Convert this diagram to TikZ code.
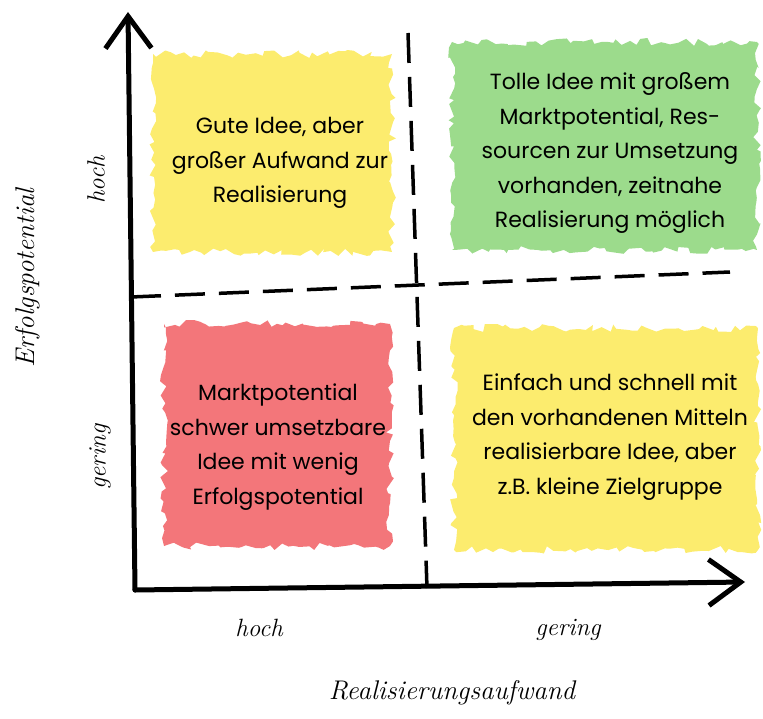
\documentclass[tikz,border=0pt]{standalone}
\usepackage{fontspec}
\setsansfont{Poppins}
\usetikzlibrary{arrows.meta,decorations.pathmorphing}

\definecolor{gelb}{HTML}{FCEC6E}
\definecolor{gruen}{HTML}{9CDB8C}
\definecolor{rot}{HTML}{F3767A}

\begin{document}
\begin{tikzpicture}[x=1pt,y=-1pt,>={Straight Barb[length=32pt,width=46pt]},
  achse/.style={line width=5pt,->,line cap=round},
  trenn/.style={line width=3.5pt,dash pattern=on 30pt off 14pt},
  klecks/.style={decorate,decoration={random steps,segment length=6pt,amplitude=4pt}},
  feld/.style={align=center,font=\sffamily\fontsize{22}{34.5}\selectfont},
  hand/.style={font=\itshape\fontsize{25}{28}\selectfont}]
        \useasboundingbox (0,0) rectangle (763,719);
        \pgfmathsetseed{11}

        % Farbflaechen
        \fill[klecks, gelb]  (153,54)  rectangle (392,252);
        \fill[klecks, gruen] (452,42)  rectangle (757,250);
        \fill[klecks, rot]   (164,324) rectangle (390,546);
        \fill[klecks, gelb]  (454,328) rectangle (758,550);

        % Achsen und Trennlinien
        \coordinate (o) at (135,590);
        \coordinate (ytop) at (128,12);
        \coordinate (xend) at (745,582);
        \coordinate (h1) at (131,297);
        \coordinate (h2) at (730,272);
        \coordinate (v1) at (408,33);
        \coordinate (v2) at (427,588);

        \draw[trenn] (h1) -- (h2);
        \draw[trenn] (v1) -- (v2);
        \draw[achse] (o) -- (ytop);
        \draw[achse] (o) -- (xend);

        % Quadranten
        \node[feld] (gut) at (280,163) {Gute Idee, aber\\gro\ss er Aufwand zur\\Realisierung};
        \node[feld] (toll) at (610,153) {Tolle Idee mit gro\ss em\\Marktpotential, Res-\\sourcen zur Umsetzung\\vorhanden, zeitnahe\\Realisierung m\"oglich};
        \node[feld] (schwer) at (278,447) {Marktpotential\\schwer umsetzbare\\Idee mit wenig\\Erfolgspotential};
        \node[feld] (einfach) at (610,437) {Einfach und schnell mit\\den vorhandenen Mitteln\\realisierbare Idee, aber\\z.B. kleine Zielgruppe};

        % Beschriftung
        \node[hand, rotate=90] (yhoch) at (96,180) {hoch};
        \node[hand, rotate=90] (ygering) at (100,457) {gering};
        \node[hand, rotate=90, font=\itshape\fontsize{27}{30}\selectfont] (ylabel) at (28,278) {Erfolgspotential};
        \node[hand] (xhoch) at (259,628) {hoch};
        \node[hand] (xgering) at (568,630) {gering};
        \node[hand, font=\itshape\fontsize{27}{30}\selectfont] (xlabel) at (452,693) {Realisierungsaufwand};
      \end{tikzpicture}
\end{document}
